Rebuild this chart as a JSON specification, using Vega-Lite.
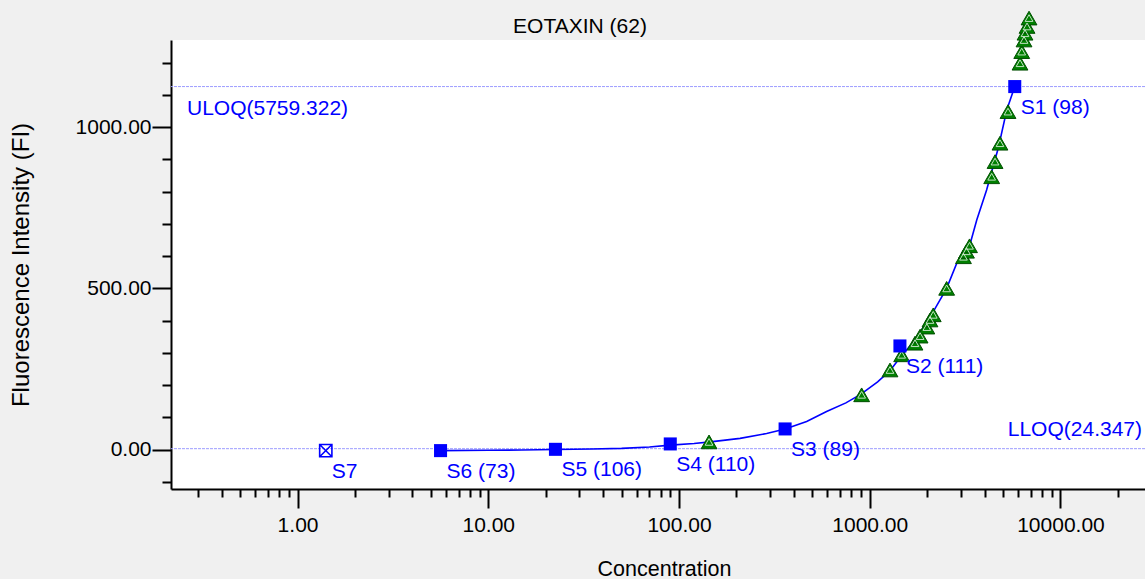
{
  "$schema": "https://vega.github.io/schema/vega-lite/v6.json",
  "width": 974,
  "height": 449,
  "autosize": "none",
  "padding": {"left": 171, "top": 40, "right": 0, "bottom": 90},
  "background": "#f0f0f0",
  "title": {
    "text": "EOTAXIN (62)",
    "font": "Liberation Sans",
    "fontSize": 21,
    "fontWeight": "normal",
    "color": "black",
    "anchor": "middle",
    "baseline": "bottom",
    "dx": -78,
    "dy": 55,
    "offset": 6
  },
  "config": {
    "view": {"fill": "white", "stroke": null},
    "axis": {
      "grid": false,
      "domainColor": "black",
      "domainWidth": 2,
      "tickColor": "black",
      "tickWidth": 2,
      "labelFont": "Liberation Sans",
      "labelFontSize": 21,
      "labelColor": "black",
      "labelOverlap": false,
      "labelBound": false,
      "titleFont": "Liberation Sans",
      "titleFontWeight": "normal",
      "titleColor": "black"
    }
  },
  "datasets": {
    "curve": [
      {"conc": 5.62, "fi": -3},
      {"conc": 10, "fi": -2},
      {"conc": 15, "fi": -1},
      {"conc": 22.5, "fi": 0.5},
      {"conc": 35, "fi": 2},
      {"conc": 50, "fi": 4},
      {"conc": 70, "fi": 8},
      {"conc": 90, "fi": 14},
      {"conc": 120, "fi": 19},
      {"conc": 150, "fi": 25},
      {"conc": 209, "fi": 35},
      {"conc": 288, "fi": 50},
      {"conc": 360, "fi": 64},
      {"conc": 467, "fi": 87},
      {"conc": 594, "fi": 118},
      {"conc": 750, "fi": 145},
      {"conc": 900, "fi": 172},
      {"conc": 1100, "fi": 210},
      {"conc": 1277, "fi": 245},
      {"conc": 1440, "fi": 285},
      {"conc": 1700, "fi": 335},
      {"conc": 2070, "fi": 410},
      {"conc": 2530, "fi": 500},
      {"conc": 2860, "fi": 578},
      {"conc": 3100, "fi": 600},
      {"conc": 3340, "fi": 632},
      {"conc": 3640, "fi": 712},
      {"conc": 4100, "fi": 805},
      {"conc": 4720, "fi": 935},
      {"conc": 5230, "fi": 1053},
      {"conc": 5759.322, "fi": 1125.6}
    ],
    "standards": [
      {"id": "S1", "conc": 5759.322, "fi": 1125.6, "label": "S1 (98)", "used": true},
      {"id": "S2", "conc": 1439.83, "fi": 321.5, "label": "S2 (111)", "used": true},
      {"id": "S3", "conc": 359.96, "fi": 64.2, "label": "S3 (89)", "used": true},
      {"id": "S4", "conc": 89.99, "fi": 17.7, "label": "S4 (110)", "used": true},
      {"id": "S5", "conc": 22.5, "fi": 1, "label": "S5 (106)", "used": true},
      {"id": "S6", "conc": 5.62, "fi": -3, "label": "S6 (73)", "used": true},
      {"id": "S7", "conc": 1.406, "fi": -3, "label": "S7", "used": false}
    ],
    "samples": [
      {"conc": 143.7, "fi": 24},
      {"conc": 907, "fi": 170},
      {"conc": 1277, "fi": 247},
      {"conc": 1470, "fi": 294},
      {"conc": 1727, "fi": 330},
      {"conc": 1837, "fi": 352},
      {"conc": 1993, "fi": 380},
      {"conc": 2070, "fi": 402},
      {"conc": 2153, "fi": 418},
      {"conc": 2531, "fi": 500},
      {"conc": 3101, "fi": 598},
      {"conc": 3216, "fi": 615},
      {"conc": 3336, "fi": 632},
      {"conc": 4359, "fi": 846},
      {"conc": 4539, "fi": 893},
      {"conc": 4818, "fi": 950},
      {"conc": 5309, "fi": 1048},
      {"conc": 6136, "fi": 1198},
      {"conc": 6265, "fi": 1234},
      {"conc": 6441, "fi": 1270},
      {"conc": 6518, "fi": 1291},
      {"conc": 6680, "fi": 1312},
      {"conc": 6843, "fi": 1338}
    ],
    "limits": [
      {"limit": "ULOQ", "fi": 1125.6, "label": "ULOQ(5759.322)"},
      {"limit": "LLOQ", "fi": 3, "label": "LLOQ(24.347)"}
    ]
  },
  "encoding": {
    "x": {
      "field": "conc",
      "type": "quantitative",
      "title": "Concentration",
      "scale": {"type": "log", "domain": [0.217, 27750], "nice": false},
      "axis": {
        "values": [0.3, 0.4, 0.5, 0.6, 0.7, 0.8, 0.9, 1, 2, 3, 4, 5, 6, 7, 8, 9, 10, 20, 30, 40, 50, 60, 70, 80, 90, 100, 200, 300, 400, 500, 600, 700, 800, 900, 1000, 2000, 3000, 4000, 5000, 6000, 7000, 8000, 9000, 10000, 20000],
        "labelExpr": "(datum.value == 1 || datum.value == 10 || datum.value == 100 || datum.value == 1000 || datum.value == 10000) ? format(datum.value, '.2f') : ''",
        "tickSize": {"condition": {"test": "datum.value == 1 || datum.value == 10 || datum.value == 100 || datum.value == 1000 || datum.value == 10000", "value": 19}, "value": 8},
        "labelPadding": 6,
        "titleFontSize": 21.5,
        "titlePadding": 23,
        "titleX": 493
      }
    },
    "y": {
      "field": "fi",
      "type": "quantitative",
      "title": "Fluorescence Intensity (FI)",
      "scale": {"domain": [-122, 1270], "nice": false, "zero": false},
      "axis": {
        "values": [-100, 0, 100, 200, 300, 400, 500, 600, 700, 800, 900, 1000, 1100, 1200],
        "labelExpr": "datum.value % 500 == 0 ? format(datum.value, '.2f') : ''",
        "tickSize": {"condition": {"test": "datum.value % 500 == 0", "value": 19}, "value": 9},
        "labelPadding": 1,
        "titleFontSize": 24,
        "titlePadding": 42
      }
    }
  },
  "layer": [
    {
      "data": {"name": "limits"},
      "mark": {"type": "rule", "color": "#9c9cff", "strokeWidth": 1, "strokeDash": [3, 1]},
      "encoding": {"x": null}
    },
    {
      "data": {"name": "limits"},
      "transform": [{"filter": {"field": "limit", "equal": "ULOQ"}}],
      "mark": {"type": "text", "align": "left", "baseline": "middle", "dx": 16, "dy": 22, "color": "#0000ff", "font": "Liberation Sans", "fontSize": 21},
      "encoding": {
        "x": {"value": 0},
        "y": {"field": "fi", "type": "quantitative"},
        "text": {"field": "label", "type": "nominal"}
      }
    },
    {
      "data": {"name": "limits"},
      "transform": [{"filter": {"field": "limit", "equal": "LLOQ"}}],
      "mark": {"type": "text", "align": "right", "baseline": "middle", "dx": -3, "dy": -19, "color": "#0000ff", "font": "Liberation Sans", "fontSize": 21},
      "encoding": {
        "x": {"value": "width"},
        "y": {"field": "fi", "type": "quantitative"},
        "text": {"field": "label", "type": "nominal"}
      }
    },
    {
      "data": {"name": "curve"},
      "mark": {"type": "line", "color": "#0000ff", "strokeWidth": 1.6}
    },
    {
      "data": {"name": "samples"},
      "mark": {"type": "point", "shape": "triangle-up", "size": 250, "filled": true, "fill": "#008000", "stroke": "#004f00", "strokeWidth": 1, "opacity": 1}
    },
    {
      "data": {"name": "samples"},
      "mark": {"type": "point", "shape": "triangle-up", "size": 60, "filled": false, "stroke": "#d8ecd8", "strokeWidth": 1, "opacity": 0.9}
    },
    {
      "data": {"name": "standards"},
      "transform": [{"filter": "datum.used"}],
      "mark": {"type": "point", "shape": "square", "size": 170, "filled": true, "color": "#0000ff", "opacity": 1}
    },
    {
      "data": {"name": "standards"},
      "transform": [{"filter": "!datum.used"}],
      "mark": {"type": "point", "shape": "M-1,-1L1,-1L1,1L-1,1Z M-1,-1L1,1 M1,-1L-1,1", "size": 150, "filled": false, "color": "#0000ff", "strokeWidth": 1.6, "opacity": 1}
    },
    {
      "data": {"name": "standards"},
      "mark": {"type": "text", "align": "left", "baseline": "middle", "dx": 6, "dy": 21, "color": "#0000ff", "font": "Liberation Sans", "fontSize": 21},
      "encoding": {"text": {"field": "label"}}
    }
  ]
}
